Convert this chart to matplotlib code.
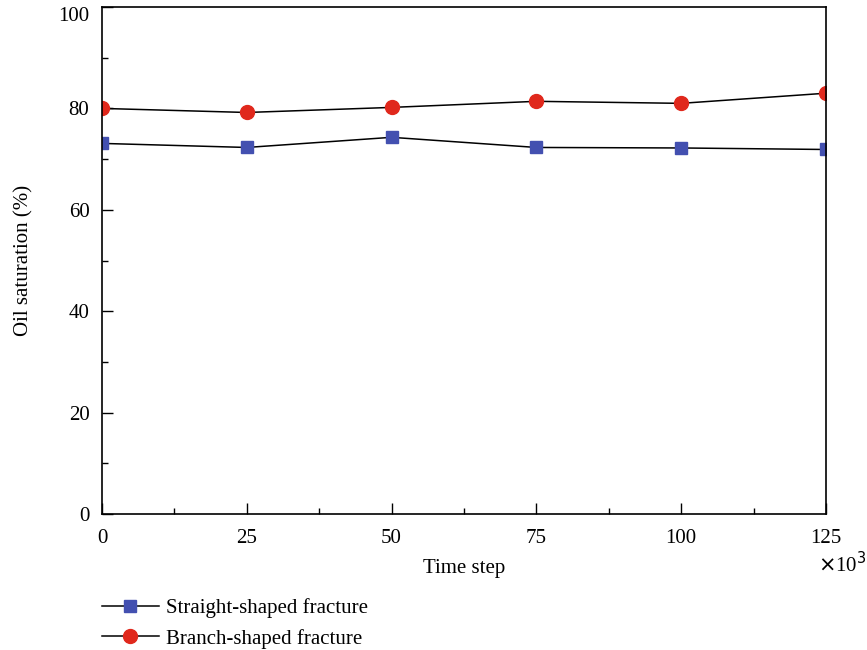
import matplotlib.pyplot as plt
from matplotlib.ticker import MultipleLocator

plt.rcParams['font.family'] = ['Liberation Serif', 'DejaVu Serif']

# time step (x10^3) and oil saturation (%)
steps = [0, 25, 50, 75, 100, 125]
straight = [73.1, 72.3, 74.3, 72.3, 72.2, 71.9]
branch = [80.0, 79.2, 80.2, 81.4, 81.0, 83.0]

fig = plt.figure(figsize=(8.67, 6.5), dpi=100)
ax = fig.add_axes([0.1176, 0.2092, 0.8351, 0.780])

ax.plot(steps, straight, color='black', lw=1.1, marker='s', ms=9,
        mfc='#4350b0', mec='#4350b0', label='Straight-shaped fracture')
ax.plot(steps, branch, color='black', lw=1.1, marker='o', ms=10,
        mfc='#e0281c', mec='#e0281c', label='Branch-shaped fracture')

ax.set_xlim(0, 125)
ax.set_ylim(0, 100)
ax.xaxis.set_major_locator(MultipleLocator(25))
ax.xaxis.set_minor_locator(MultipleLocator(12.5))
ax.yaxis.set_major_locator(MultipleLocator(20))
ax.yaxis.set_minor_locator(MultipleLocator(10))
ax.tick_params(which='both', direction='in', labelsize=15, top=False, right=False)
ax.tick_params(which='major', length=8, width=1)
ax.tick_params(which='minor', length=4, width=1)
ax.tick_params(axis='x', pad=11)
ax.tick_params(axis='y', pad=9)
for s in ax.spines.values():
    s.set_linewidth(1.2)

# keep the top "100" label inside the figure, like the original
fig.canvas.draw()
for t in ax.yaxis.get_major_ticks():
    if abs(t.get_loc() - 100) < 1e-6:
        t.label1.set_verticalalignment('top')

ax.set_xlabel('Time step', fontsize=15, labelpad=8)
ax.set_ylabel('Oil saturation (%)', fontsize=15, labelpad=18)
fig.text(0.999, 1 - 565 / 650, r'$\times$10$^3$', fontsize=15,
         ha='right', va='center')

ax.legend(loc='upper left', bbox_to_anchor=(-0.012, -0.15), frameon=False,
          fontsize=15, handlelength=2.75, labelspacing=0.5, handletextpad=0.35,
          borderaxespad=0)

fig.savefig('out.png', dpi=100)
